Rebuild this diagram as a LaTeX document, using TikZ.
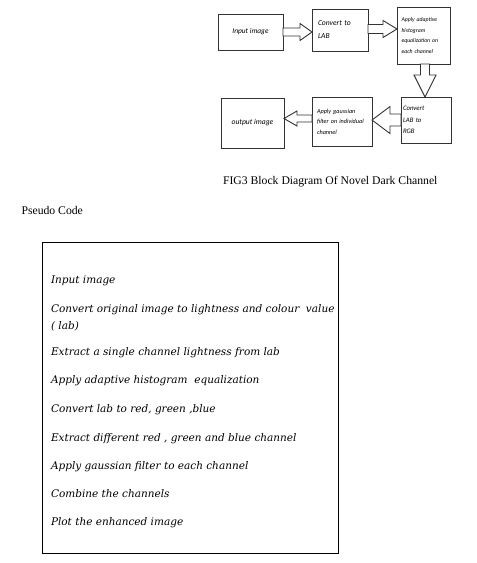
\documentclass[tikz,border=0pt]{standalone}
\usepackage{fontspec}
\setmainfont{Liberation Serif}
\newfontfamily\blkfont{Carlito}
\newfontfamily\codefont{DejaVu Serif}
\usetikzlibrary{positioning}
\tikzset{
    every node/.style={inner sep=0pt, outer sep=0pt}
}
\tikzset{
    blk/.style={draw=black!80, line width=0.9pt, align=left,
    	font=\blkfont\itshape\fontsize{5.8}{10.5}\selectfont}
}
\tikzset{
    fat/.style={draw=black!80, line width=0.9pt, fill=white, line join=miter}
}
\tikzset{
    codeline/.style={anchor=base west,
    	font=\codefont\itshape\fontsize{10.5}{12}\selectfont}
}

\begin{document}
\begin{tikzpicture}[x=1pt, y=-1pt]
	\useasboundingbox (0,0) rectangle (477,563);
	% block diagram
	\node (in) [blk, minimum width=65pt, minimum height=36pt, align=center,
		font=\blkfont\itshape\fontsize{7.4}{9}\selectfont] at (250.5,32) {Input image};
	\node (lab) [blk, minimum width=56pt, minimum height=42pt, text width=44pt,
		font=\blkfont\itshape\fontsize{7.6}{13}\selectfont] at (340,30) {Convert to\\LAB};
	\node (adapt) [blk, minimum width=53pt, minimum height=57pt, text width=44pt] at (423.5,35.5)
		{Apply adaptive\\histogram\\equalization on\\each channel};
	\node (rgb) [blk, minimum width=50pt, minimum height=46pt, text width=46pt,
		font=\blkfont\itshape\fontsize{6.8}{11.5}\selectfont] at (426,120) {Convert\\LAB to\\RGB};
	\node (gauss) [blk, minimum width=60pt, minimum height=49pt, text width=50pt,
		font=\blkfont\itshape\fontsize{6.2}{10.5}\selectfont] at (342,121.5)
		{Apply gaussian\\filter on individual\\channel};
	\node (out) [blk, minimum width=63pt, minimum height=50pt, align=center,
		font=\blkfont\itshape\fontsize{7.6}{9}\selectfont] at (252.5,123) {output image};

	\draw[fat] (in.east) ++(0,-4) -- ++(17,0) -- ++(0,-4.5) -- ++(12,8.5)
		-- ++(-12,8.5) -- ++(0,-4.5) -- ++(-17,0) -- cycle;
	\draw[fat] ([yshift=1pt]lab.east) ++(0,-4.5) -- ++(15,0) -- ++(0,-4) -- ++(14,8.5)
		-- ++(-14,8.5) -- ++(0,-4) -- ++(-15,0) -- cycle;
	\draw[fat] ([xshift=1.5pt]adapt.south) ++(-4.5,0) -- ++(0,11) -- ++(-6.5,0) -- ++(11,22)
		-- ++(11,-22) -- ++(-6.5,0) -- ++(0,-11) -- cycle;
	\draw[fat] (rgb.west) ++(0,-6) -- ++(-11,0) -- ++(0,-7.5) -- ++(-18,13.5)
		-- ++(18,13.5) -- ++(0,-7.5) -- ++(11,0) -- cycle;
	\draw[fat] ([yshift=3pt]gauss.west) ++(0,-3.5) -- ++(-15,0) -- ++(0,-4) -- ++(-13,7.5)
		-- ++(13,7.5) -- ++(0,-4) -- ++(15,0) -- cycle;

	\node (cap) [anchor=base west, font=\fontsize{11.7}{14}\selectfont] at (223,184.5)
		{FIG3 Block Diagram Of Novel Dark Channel};
	\node (pc) [anchor=base west, font=\fontsize{11.7}{14}\selectfont] at (21.5,214.3) {Pseudo Code};

	% pseudo code box
	\draw[line width=1pt] (42,242) rectangle (338,553);
	\node (c1) [codeline] at (51,283) {Input image};
	\node (c2) [codeline] at (51,312) {Convert original image to lightness and colour\ \ value};
	\node (c3) [codeline] at (51,329) {( lab)};
	\node (c4) [codeline] at (51,355) {Extract a single channel lightness from lab};
	\node (c5) [codeline] at (51,383) {Apply adaptive histogram\ \ equalization};
	\node (c6) [codeline] at (51,412) {Convert lab to red, green ,blue};
	\node (c7) [codeline] at (51,441) {Extract different red , green and blue channel};
	\node (c8) [codeline] at (51,469) {Apply gaussian filter to each channel};
	\node (c9) [codeline] at (51,497) {Combine the channels};
	\node (c10) [codeline] at (51,525) {Plot the enhanced image};
\end{tikzpicture}
\end{document}
